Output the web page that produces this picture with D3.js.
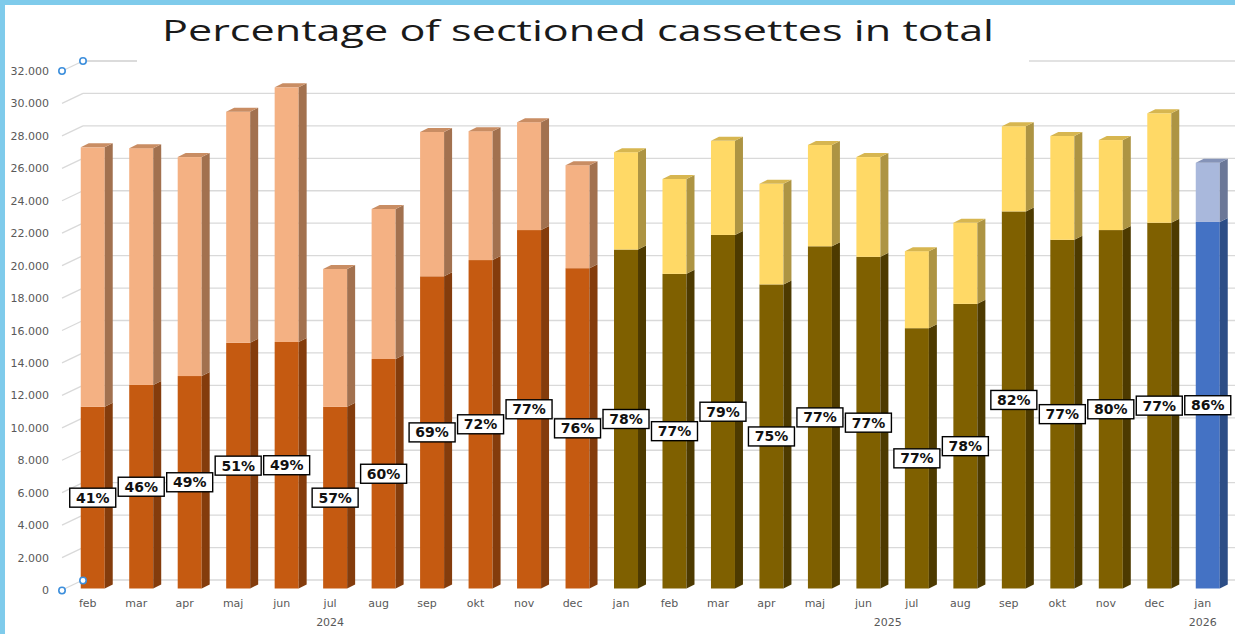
<!DOCTYPE html>
<html>
<head>
<meta charset="utf-8">
<script src="https://cdn.jsdelivr.net/npm/d3@7"></script>
<style>
  html, body { margin: 0; padding: 0; background: #ffffff; }
  svg { display: block; }
</style>
</head>
<body>
<svg id="chart" width="1235" height="634"></svg>
<script>
// ---- data ----
const titleText = "Percentage of sectioned cassettes in total";
const months = ["feb","mar","apr","maj","jun","jul","aug","sep","okt","nov","dec",
                "jan","feb","mar","apr","maj","jun","jul","aug","sep","okt","nov","dec",
                "jan"];
const years = ["2024","2024","2024","2024","2024","2024","2024","2024","2024","2024","2024",
               "2025","2025","2025","2025","2025","2025","2025","2025","2025","2025","2025","2025",
               "2026"];
const sectioned = [11200,12550,13100,15150,15200,11200,14150,19250,20250,22100,19750,
                   20900,19400,21800,18750,21100,20450,16050,17550,23250,21500,22100,22550,
                   22600];
const total = [27200,27150,26600,29400,30900,19700,23400,28150,28200,28750,26100,
               26900,25250,27600,24950,27350,26600,20800,22550,28500,27900,27650,29300,
               26250];
const pctLabels = ["41%","46%","49%","51%","49%","57%","60%","69%","72%","77%","76%",
                   "78%","77%","79%","75%","77%","77%","77%","78%","82%","77%","80%","77%",
                   "86%"];
const yTicks = [0,2000,4000,6000,8000,10000,12000,14000,16000,18000,20000,22000,24000,26000,28000,30000,32000];
const yearNames = ["2024","2025","2026"];

// colours per year: [lower front, lower side, upper front, upper side, upper top]
const yearColors = {
  "2024": ["#c55a11", "#843c0c", "#f4b183", "#a2714f", "#c98d63"],
  "2025": ["#7f6000", "#4d3a00", "#ffd966", "#ad9443", "#d7b650"],
  "2026": ["#4472c4", "#2c4d86", "#a9b8dc", "#6b7797", "#8593b8"]
};

// ---- layout ----
const svg = d3.select("#chart");
const W = 1235, H = 634;
const depthX = 8, depthY = 4;       // bar 3D depth
const wallX = 21, wallY = 10;       // back wall offset for gridlines
const frontX = 62;

const n = months.length;
const x = d3.scaleBand()
  .domain(d3.range(n))
  .range([68.5, 1232])
  .paddingInner(0.505)
  .paddingOuter(0.2525);
const y = d3.scaleLinear().domain([0, 32000]).range([588.5, 69.5]);
const bw = x.bandwidth();

svg.append("rect").attr("width", W).attr("height", H).attr("fill", "#ffffff");

// ---- gridlines (back wall + side diagonals) ----
const grid = svg.append("g").attr("class", "grid");
yTicks.forEach(t => {
  const yl = y(t) + 1.5;
  grid.append("line")
    .attr("x1", frontX).attr("y1", yl)
    .attr("x2", frontX + wallX).attr("y2", yl - wallY)
    .attr("stroke", "#d9d9d9").attr("stroke-width", 1.3);
  grid.append("line")
    .attr("x1", frontX + wallX).attr("y1", yl - wallY)
    .attr("x2", W).attr("y2", yl - wallY)
    .attr("stroke", "#d9d9d9").attr("stroke-width", 1.3);
});

// ---- y axis labels ----
const yAxis = d3.axisLeft(y).tickValues(yTicks)
  .tickFormat(d => d === 0 ? "0" : d3.format(",.3f")(d / 1000).replace(",", "."))
  .tickSize(0).tickPadding(0);
const yAxisG = svg.append("g").attr("transform", `translate(49,1.5)`).call(yAxis);
yAxisG.select(".domain").remove();
yAxisG.selectAll("text")
  .attr("fill", "#595959")
  .attr("font-family", "DejaVu Sans, sans-serif")
  .attr("font-size", 11);

// ---- bars ----
const bars = svg.append("g").attr("class", "bars");
function segment(g, x0, yTop, yBot, front, side, top) {
  g.append("rect")
    .attr("x", x0).attr("y", yTop)
    .attr("width", bw).attr("height", Math.max(0, yBot - yTop))
    .attr("fill", front);
  g.append("path")
    .attr("d", `M${x0 + bw},${yBot} L${x0 + bw + depthX},${yBot - depthY} L${x0 + bw + depthX},${yTop - depthY} L${x0 + bw},${yTop} Z`)
    .attr("fill", side);
  if (top) {
    g.append("path")
      .attr("d", `M${x0},${yTop} L${x0 + depthX},${yTop - depthY} L${x0 + bw + depthX},${yTop - depthY} L${x0 + bw},${yTop} Z`)
      .attr("fill", top);
  }
}
d3.range(n).forEach(i => {
  const c = yearColors[years[i]];
  const g = bars.append("g");
  const x0 = x(i);
  segment(g, x0, y(sectioned[i]), y(0), c[0], c[1], null);
  segment(g, x0, y(total[i]), y(sectioned[i]), c[2], c[3], c[4]);
});

// ---- percent labels ----
const labels = svg.append("g").attr("class", "pct");
d3.range(n).forEach(i => {
  const cx = x(i) + bw / 2;
  const cy = (y(0) + y(sectioned[i])) / 2;
  const g = labels.append("g").attr("transform", `translate(${cx},${cy})`);
  g.append("rect")
    .attr("x", -23).attr("y", -9.5).attr("width", 46).attr("height", 19)
    .attr("fill", "#ffffff").attr("stroke", "#000000").attr("stroke-width", 1.4);
  g.append("text")
    .attr("text-anchor", "middle").attr("dy", "0.36em")
    .attr("font-family", "DejaVu Sans, sans-serif").attr("font-weight", "bold")
    .attr("font-size", 14).attr("fill", "#111111")
    .text(pctLabels[i]);
});

// ---- x axis labels ----
const xAxis = svg.append("g").attr("class", "xaxis");
d3.range(n).forEach(i => {
  xAxis.append("text")
    .attr("x", x(i) + bw / 2 - 5).attr("y", 607)
    .attr("text-anchor", "middle")
    .attr("font-family", "DejaVu Sans, sans-serif").attr("font-size", 11)
    .attr("fill", "#595959")
    .text(months[i]);
});
yearNames.forEach(yr => {
  const idx = d3.range(n).filter(i => years[i] === yr);
  const cx = (x(idx[0]) + x(idx[idx.length - 1])) / 2 + bw / 2 - 5;
  xAxis.append("text")
    .attr("x", cx).attr("y", 626)
    .attr("text-anchor", "middle")
    .attr("font-family", "DejaVu Sans, sans-serif").attr("font-size", 11)
    .attr("fill", "#595959")
    .text(yr);
});

// ---- title (box hides top gridline) ----
svg.append("rect").attr("x", 137).attr("y", 0).attr("width", 892).attr("height", 64).attr("fill", "#ffffff");
svg.append("text")
  .attr("x", 162).attr("y", 41)
  .attr("textLength", 832).attr("lengthAdjust", "spacingAndGlyphs")
  .attr("font-family", "Open Sans, DejaVu Sans, sans-serif")
  .attr("font-size", 29)
  .attr("fill", "#1a1a1a")
  .text(titleText);

// ---- axis selection handles ----
const handles = [[frontX, y(32000) + 1.5], [frontX + wallX, y(32000) + 1.5 - wallY],
                 [frontX, y(0) + 2], [frontX + wallX, y(0) + 2 - wallY]];
svg.append("line")
  .attr("x1", frontX + wallX).attr("y1", y(32000) + 1.5 - wallY)
  .attr("x2", 137).attr("y2", y(32000) + 1.5 - wallY)
  .attr("stroke", "#d9d9d9").attr("stroke-width", 1.3);
handles.forEach(h => {
  svg.append("circle").attr("cx", h[0]).attr("cy", h[1]).attr("r", 3.2)
    .attr("fill", "#ffffff").attr("stroke", "#3d8fdc").attr("stroke-width", 1.6);
});

// ---- blue frame ----
svg.append("rect").attr("x", 0).attr("y", 0).attr("width", W).attr("height", 5).attr("fill", "#7fcbeb");
svg.append("rect").attr("x", 0).attr("y", 0).attr("width", 5).attr("height", H).attr("fill", "#7fcbeb");
</script>
</body>
</html>
